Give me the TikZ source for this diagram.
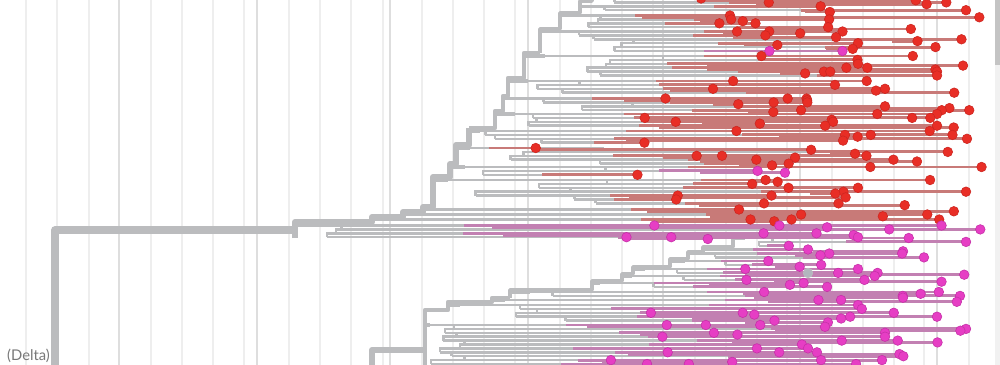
\documentclass[tikz,border=0pt]{standalone}
\usepackage{fontspec}
\newfontfamily\cladefont{Lato}

\definecolor{treegray}{RGB}{187,188,190}
\definecolor{redbr}{RGB}{200,122,120}
\definecolor{pinkbr}{RGB}{194,128,178}
\definecolor{reddotfill}{RGB}{232,46,38}
\definecolor{reddotline}{RGB}{205,38,32}
\definecolor{pinkdotfill}{RGB}{230,62,196}
\definecolor{pinkdotline}{RGB}{198,48,168}
\definecolor{graydotfill}{RGB}{178,182,190}
\definecolor{gridminor}{RGB}{238,238,238}
\definecolor{gridmajor}{RGB}{222,222,222}
\definecolor{labelgray}{RGB}{120,120,120}
\definecolor{scrolltrack}{RGB}{241,241,241}
\definecolor{scrollthumb}{RGB}{196,196,196}

\pgfdeclarelayer{gridlayer}
\pgfdeclarelayer{graylayer}
\pgfdeclarelayer{colourlayer}
\pgfsetlayers{gridlayer,graylayer,colourlayer,main}

\tikzset{
  minorgrid/.style={draw=gridminor, line width=0.9pt},
  majorgrid/.style={draw=gridmajor, line width=1.3pt},
  trunk/.style={draw=treegray, line width=6.5pt, line join=round},
  attach/.style={draw=treegray, line width=2.6pt, line join=round},
  stem/.style={draw=treegray, line width=2.2pt},
  tipgray/.style={draw=treegray, line width=2.2pt},
  tipcolour/.style={line width=2.4pt},
  tipdot/.style={line width=0.5pt},
}

\begin{document}
\begin{tikzpicture}[x=0.3mm, y=-0.3mm]
  \useasboundingbox (0,0) rectangle (1000,365);
  \pgfmathsetseed{31}

  %% time grid
  \begin{pgfonlayer}{gridlayer}
    \fill[white] (0,0) rectangle (1000,365);
    \foreach \gx in {26,57,89} \draw[minorgrid] (\gx,0) -- (\gx,365);
    \foreach \gx in {119,257,390,528,663,800,937}{
      \draw[majorgrid] (\gx,0) -- (\gx,365);
      \foreach \off in {32,63,94} \draw[minorgrid] (\gx+\off,0) -- (\gx+\off,365);
    }
    \foreach \gx in {244,383,515,653,787,924} \draw[minorgrid] (\gx,0) -- (\gx,365);
  \end{pgfonlayer}

  %% backbone
  \begin{pgfonlayer}{graylayer}
    \draw[trunk] (55,372) -- (55,230) -- (295,230);
    \draw[trunk, line width=5pt] (295,238) -- (295,222) -- (372,222) -- (372,217) -- (403,217) -- (403,212) -- (423,212) -- (423,207) -- (433,207) -- (433,177) -- (450,177) -- (450,164) -- (456,164) -- (456,145) -- (469,145) -- (469,128);
    \draw[trunk, line width=4pt] (469,128) -- (495,128) -- (495,111) -- (503,111) -- (503,96) -- (508,96) -- (508,78) -- (524,78) -- (524,53) -- (540,53);
    \draw[trunk, line width=3.2pt] (540,53) -- (540,29) -- (560,29) -- (560,13) -- (580,13) -- (580,1) -- (592,1) -- (592,-3);
    \draw[trunk, line width=5pt] (372,372) -- (372,350) -- (425,350);
    \draw[trunk, line width=4pt] (425,370) -- (425,310) -- (448,310) -- (448,302) -- (492,302) -- (492,298) -- (510,298);
    \draw[trunk, line width=3pt] (510,298) -- (510,290) -- (592,290) -- (592,281) -- (622,281) -- (622,274) -- (633,274) -- (633,267) -- (670,267) -- (670,259) -- (688,259) -- (688,252) -- (703,252) -- (703,247) -- (733,247) -- (733,238);
  \end{pgfonlayer}

  %% tip clusters: node x / node y / first row / cluster x / rows / spread / pink
  \foreach \xb/\yk/\ya/\xs/\n/\spr/\col in {
      592/1/-1.5/602/2/40/0, 580/13/6.3/596/2/60/0, 560/29/15.5/585/4/80/0,
      540/53/31.5/555/6/110/0, 524/78/56/545/6/120/0, 508/96/81/528/4/100/0,
      503/111/98.5/520/4/120/0, 495/128/114/515/4/110/0, 469/145/131/480/4/140/0,
      456/164/148/470/5/150/0, 450/177/167/465/3/150/0, 433/207/180/448/7/160/0,
      423/212/209.5/440/1/0/0, 403/217/214.5/415/1/0/0, 372/222/219.5/385/1/0/0,
      295/230/225.5/300/4/50/1,
      733/247/238/745/3/50/1, 703/252/249.5/715/1/0/1, 688/259/253.5/698/2/40/1,
      670/267/261/685/2/60/1, 633/274/269/645/2/60/1, 622/281/276/632/2/60/1,
      592/290/283/600/2/80/1, 510/298/292/530/2/90/1, 492/302/300/505/1/0/1,
      448/310/305/460/5/120/1, 425/350/325/430/11/40/1}{
    \begin{pgfonlayer}{graylayer}
      \draw[attach] (\xb,\yk) -- (\xb,\ya) -- (\xs,\ya);
    \end{pgfonlayer}
    \xdef\prevs{\xs}
    \pgfmathtruncatemacro\last{\n-1}
    \foreach \j in {0,...,\last}{
      \pgfmathsetmacro\rowy{\ya+3.9*\j}
      \pgfmathsetmacro\prevy{\rowy-3.9}
      \pgfmathsetmacro\siby{\rowy+1.8}
      \pgfmathsetmacro\tipstart{\j==0 ? \xs : \xs+rnd*\spr}
      \pgfmathsetmacro\tipx{rnd<0.08 ? \tipstart+35+rnd*190 : 720+rnd*265}
      \pgfmathtruncatemacro\snap{rnd<0.28 ? 1 : 0}
      \ifnum\snap=1 \pgfmathsetmacro\tipx{{858,885,808,937,966}[int(rnd*5)]}\fi
      \pgfmathsetmacro\tipx{min(max(\tipx,\tipstart+30),986)}
      \pgfmathsetmacro\tipcut{\tipstart+(\tipx-\tipstart)*(0.22+0.45*rnd)}
      \pgfmathtruncatemacro\ispink{((\col==1) || (rnd<0.03)) ? 1 : 0}
      \ifnum\ispink=1
        \def\tcbr{pinkbr}\def\tcfill{pinkdotfill}\def\tcline{pinkdotline}
      \else
        \def\tcbr{redbr}\def\tcfill{reddotfill}\def\tcline{reddotline}
      \fi
      \begin{pgfonlayer}{graylayer}
        \draw[tipgray] (\tipstart,\rowy) -- (\tipcut,\rowy);
        \ifnum\j>0 \draw[stem] (\tipstart,\rowy) -- (\tipstart,\prevy) -- (\prevs,\prevy);\fi
      \end{pgfonlayer}
      \begin{pgfonlayer}{colourlayer}
        \draw[tipcolour, draw=\tcbr] (\tipcut,\rowy) -- (\tipx,\rowy);
      \end{pgfonlayer}
      \filldraw[tipdot, fill=\tcfill, draw=\tcline] (\tipx,\rowy) circle (4.8);
      %% samples sharing the row
      \pgfmathsetmacro\exa{\tipx-15-rnd*230}
      \pgfmathtruncatemacro\hasa{((\exa>\tipcut+6) && (rnd<0.75)) ? 1 : 0}
      \ifnum\hasa=1 \filldraw[tipdot, fill=\tcfill, draw=\tcline] (\exa,\rowy) circle (4.8);\fi
      \pgfmathsetmacro\exb{\tipx-40-rnd*260}
      \pgfmathtruncatemacro\hasb{((\exb>\tipcut+6) && (rnd<0.5)) ? 1 : 0}
      \ifnum\hasb=1 \filldraw[tipdot, fill=\tcfill, draw=\tcline] (\exb,\rowy) circle (4.8);\fi
      %% sister lineage just below the row
      \pgfmathtruncatemacro\hassib{rnd<0.65 ? 1 : 0}
      \ifnum\hassib=1
        \pgfmathsetmacro\sibcut{\tipcut+rnd*60}
        \pgfmathsetmacro\sibx{min(max(\sibcut+25,700+rnd*285),986)}
        \begin{pgfonlayer}{colourlayer}
          \draw[tipcolour, draw=\tcbr] (\sibcut,\siby) -- (\sibx,\siby);
        \end{pgfonlayer}
        \filldraw[tipdot, fill=\tcfill, draw=\tcline] (\sibx,\siby) circle (4.8);
      \fi
      \xdef\prevs{\tipstart}
    }
  }
  \filldraw[tipdot, fill=graydotfill, draw=treegray] (808,273) circle (4.8);

  \node[anchor=base west, inner sep=0pt, text=labelgray, font=\cladefont\fontsize{12.6}{14}\selectfont] (deltalabel) at (7,360.5) {(Delta)};

  %% scroll bar
  \fill[scrolltrack] (995,0) rectangle (1000,365);
  \fill[scrollthumb] (995,0) rectangle (1000,65);
\end{tikzpicture}
\end{document}
